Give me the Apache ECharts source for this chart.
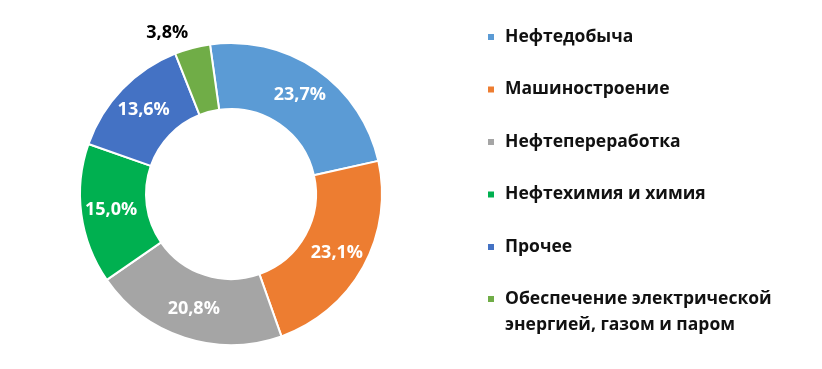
<!DOCTYPE html>
<html>
<head>
<meta charset="utf-8">
<script src="https://cdn.jsdelivr.net/npm/echarts@6/dist/echarts.min.js"></script>
<style>html,body{margin:0;padding:0;background:#fff}#main{width:822px;height:369px}</style>
</head>
<body>
<div id="main"></div>
<script>
const categories = ['Нефтедобыча', 'Машиностроение', 'Нефтепереработка', 'Нефтехимия и химия', 'Прочее', 'Обеспечение электрической\nэнергией, газом и паром'];
const values = [23.7, 23.1, 20.8, 15.0, 13.6, 3.8];
const colors = ['#5B9BD5', '#ED7D31', '#A5A5A5', '#00B050', '#4472C4', '#70AD47'];

const chart = echarts.init(document.getElementById('main'), null, {renderer: 'canvas'});
const fmt = v => v.toFixed(1).replace('.', ',') + '%';
const data = categories.map((c, i) => {
  const item = {name: c, value: values[i], itemStyle: {color: colors[i]}};
  if (i === categories.length - 1) {
    item.label = {position: 'outside', color: '#000', distanceToLabelLine: 0};
    item.labelLine = {show: false, length: 16, length2: 0};
  }
  return item;
});
const legendText = {fontFamily: 'Open Sans', fontWeight: 'bold', fontSize: 17.5, color: '#111', lineHeight: 26};
chart.setOption({
  animation: false,
  legend: [{
    orient: 'vertical', left: 486, top: 24, padding: 0,
    itemWidth: 8, itemHeight: 8, itemGap: 26.5, icon: 'rect',
    data: categories.slice(0, 5),
    textStyle: Object.assign({padding: [0, 0, 0, 5]}, legendText)
  }, {
    orient: 'vertical', left: 486, top: 260, padding: 0,
    itemWidth: 8, itemHeight: 8, icon: 'rect',
    data: categories.slice(5),
    formatter: name => '{e| }\n' + name.split('\n').map(s => '{a|' + s + '}').join('\n'),
    textStyle: Object.assign({
      padding: [0, 0, 0, 5],
      rich: {
        e: {lineHeight: 26, fontSize: 10},
        a: Object.assign({}, legendText)
      }
    }, legendText)
  }],
  series: [{
    type: 'pie',
    center: [231, 194],
    radius: [85, 151],
    startAngle: 98,
    avoidLabelOverlap: false,
    itemStyle: {borderColor: '#fff', borderWidth: 2},
    label: {
      position: 'inside', color: '#fff', fontFamily: 'Open Sans', fontWeight: 'bold', fontSize: 18,
      formatter: p => fmt(p.value)
    },
    labelLine: {show: false},
    data: data
  }]
});
</script>
</body>
</html>
